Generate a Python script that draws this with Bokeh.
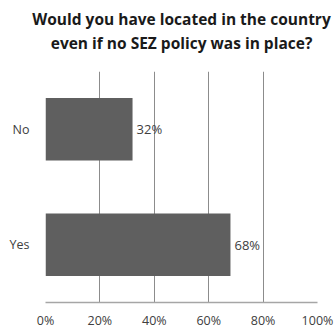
from bokeh.plotting import figure
from bokeh.models import Title, NumeralTickFormatter, FixedTicker, ColumnDataSource, Range1d
from bokeh.core.properties import value
from bokeh.embed import file_html
from bokeh.resources import INLINE

categories = ["Yes", "No"]
shares = [0.68, 0.32]
labels = ["68%", "32%"]
ticks = [0, 0.2, 0.4, 0.6, 0.8, 1.0]
title_lines = ["Would you have located in the country", "even if no SEZ policy was in place?"]

FONT = "Open Sans"

src = ColumnDataSource(dict(cat=categories, val=shares, lab=labels))

p = figure(width=336, height=331, y_range=categories, x_range=Range1d(0, 1),
           output_backend="svg", toolbar_location=None,
           min_border_left=45, min_border_right=19, min_border_top=0, min_border_bottom=0)
p.outline_line_color = None
p.background_fill_color = "white"
p.border_fill_color = "white"

p.hbar(y="cat", right="val", height=0.54, source=src, color="#5f5f5f", line_color=None)
p.text(x="val", y="cat", text="lab", source=src, x_offset=4,
       text_baseline="middle", text_align="left", text_font=value(FONT),
       text_font_size="13px", text_color="#404040")

gap_below = Title(text=" ", text_font_size="14px", standoff=0)
t2 = Title(text=title_lines[1], align="center", text_font=FONT, text_font_size="15.5px",
           text_font_style="bold", text_color="#1a1a1a", standoff=0, offset=-8)
t1 = Title(text=title_lines[0], align="center", text_font=FONT, text_font_size="15.5px",
           text_font_style="bold", text_color="#1a1a1a", standoff=0, offset=-8)
gap_above = Title(text=" ", text_font_size="3px", standoff=0)
p.add_layout(gap_below, "above")
p.add_layout(t2, "above")
p.add_layout(t1, "above")
p.add_layout(gap_above, "above")

p.xaxis.ticker = FixedTicker(ticks=ticks)
p.xaxis.formatter = NumeralTickFormatter(format="0%")
p.xaxis.major_tick_line_color = None
p.xaxis.minor_tick_line_color = None
p.xaxis.major_tick_out = 0
p.xaxis.major_tick_in = 0
p.xaxis.minor_tick_out = 0
p.xaxis.axis_line_color = "#a6a6a6"
p.xaxis.axis_line_width = 1.5
p.xaxis.major_label_text_font = FONT
p.xaxis.major_label_text_font_size = "12.5px"
p.xaxis.major_label_text_color = "#404040"
p.xaxis.major_label_standoff = 9

p.yaxis.axis_line_color = None
p.yaxis.major_tick_line_color = None
p.yaxis.minor_tick_line_color = None
p.yaxis.major_tick_out = 0
p.yaxis.major_tick_in = 0
p.yaxis.major_label_text_font = FONT
p.yaxis.major_label_text_font_size = "12.5px"
p.yaxis.major_label_text_color = "#404040"
p.yaxis.major_label_standoff = 16

p.xgrid.ticker = FixedTicker(ticks=ticks)
p.xgrid.grid_line_color = "#8c8c8c"
p.ygrid.grid_line_color = None

open("out.html", "w").write(file_html(p, INLINE))
